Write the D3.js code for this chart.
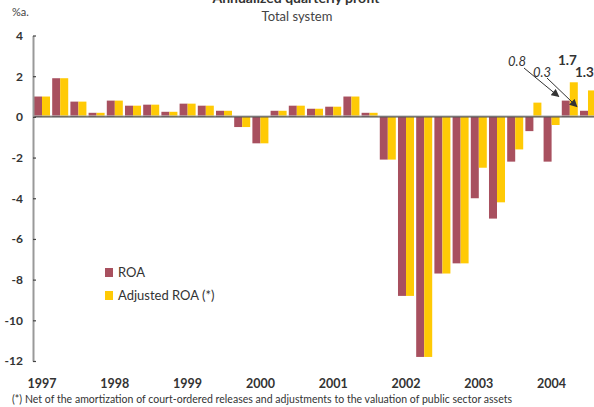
<!DOCTYPE html>
<html>
<head>
<meta charset="utf-8">
<script src="https://cdn.jsdelivr.net/npm/d3@7"></script>
<style>
body { margin:0; background:#fff; }
svg text { font-family: Lato, "Open Sans", sans-serif; fill:#333; }
.y-axis text { font-weight:bold; font-size:12px; }
.year { font-weight:bold; font-size:12.5px; }
</style>
</head>
<body>
<div class="visualisation"></div>
<script>
// quarters 1997 Q1 .. 2004 Q3
var years = ["1997","1998","1999","2000","2001","2002","2003","2004"];
var quarters = [];
years.forEach(function(y){ ["Q1","Q2","Q3","Q4"].forEach(function(q){ quarters.push(y + " " + q); }); });
quarters = quarters.slice(0, 31);

var roa = [1.0, 1.9, 0.75, 0.2, 0.8, 0.55, 0.6, 0.25, 0.65, 0.55, 0.3, -0.5,
	-1.3, 0.3, 0.55, 0.4, 0.5, 1.0, 0.2, -2.1, -8.8, -11.8, -7.7, -7.2,
	-4.0, -5.0, -2.2, -0.7, -2.2, 0.8, 0.3];
var adjRoa = [1.0, 1.9, 0.75, 0.2, 0.8, 0.55, 0.6, 0.25, 0.65, 0.55, 0.3, -0.5,
	-1.3, 0.3, 0.55, 0.4, 0.5, 1.0, 0.2, -2.1, -8.8, -11.8, -7.7, -7.2,
	-2.5, -4.2, -1.6, 0.7, -0.4, 1.7, 1.3];
var seriesNames = ["ROA", "Adjusted ROA (*)"];
var yTicks = [4, 2, 0, -2, -4, -6, -8, -10, -12];

var colors = {"ROA": "#a8505f", "Adjusted ROA (*)": "#ffca05"};

var width = 594, height = 407;

var svg = d3.select(".visualisation").append("svg")
	.attr("width", width)
	.attr("height", height);

var x0 = d3.scaleBand()
	.domain(quarters)
	.range([34, 596])
	.paddingInner(0.12)
	.paddingOuter(0)
	.align(0);

var x1 = d3.scaleBand()
	.domain(seriesNames)
	.range([0, x0.bandwidth()])
	.padding(0);

var y = d3.scaleLinear().domain([-12, 4]).range([361, 35.5]);

var data = quarters.map(function(q, i){
	return {quarter: q, values: [{key: "ROA", value: roa[i]}, {key: "Adjusted ROA (*)", value: adjRoa[i]}]};
});

// titles (top one is cut by the frame, as in the source)
svg.append("text").attr("x", 296).attr("y", 3)
	.attr("text-anchor", "middle").style("font-weight", "bold").style("font-size", "14px")
	.text("Annualized quarterly profit");
svg.append("text").attr("x", 297).attr("y", 21)
	.attr("text-anchor", "middle").style("font-size", "13px").style("fill", "#444")
	.text("Total system");
svg.append("text").attr("x", 12).attr("y", 16)
	.style("font-size", "11px").style("fill", "#444")
	.text("%a.");

// bars
var groups = svg.append("g").selectAll("g")
	.data(data)
	.enter().append("g")
	.attr("transform", function(d){ return "translate(" + x0(d.quarter) + ",0)"; });

groups.selectAll("rect")
	.data(function(d){ return d.values; })
	.enter().append("rect")
	.attr("x", function(d){ return x1(d.key); })
	.attr("width", x1.bandwidth())
	.attr("y", function(d){ return y(Math.max(0, d.value)); })
	.attr("height", function(d){ return Math.abs(y(d.value) - y(0)); })
	.attr("fill", function(d){ return colors[d.key]; });

// zero line
svg.append("line")
	.attr("x1", 33).attr("x2", width)
	.attr("y1", y(0) - 1).attr("y2", y(0) - 1)
	.attr("stroke", "#bbb").attr("stroke-width", 1);
svg.append("line")
	.attr("x1", 33).attr("x2", width)
	.attr("y1", y(0)).attr("y2", y(0))
	.attr("stroke", "#555").attr("stroke-width", 1.2);

// y axis
var yAxis = svg.append("g")
	.attr("class", "y-axis")
	.attr("transform", "translate(33,0)")
	.call(d3.axisLeft(y).tickValues(yTicks).tickFormat(function(d){ return String(d); })
		.tickSizeInner(-3).tickSizeOuter(0).tickPadding(10));
yAxis.select(".domain").attr("stroke", "#999").attr("stroke-width", 2);
yAxis.selectAll(".tick line").attr("stroke", "#444").attr("stroke-width", 1.2);
yAxis.selectAll(".tick text").style("fill", "#333");

// year labels at Q1 of each year
svg.append("g").selectAll("text")
	.data(years)
	.enter().append("text")
	.attr("class", "year")
	.attr("x", function(d){ return x0(d + " Q1") + x0.bandwidth() / 2; })
	.attr("y", 388)
	.attr("text-anchor", "middle")
	.text(function(d){ return d; });

// legend
var legend = svg.append("g").selectAll("g")
	.data(seriesNames)
	.enter().append("g")
	.attr("transform", function(d, i){ return "translate(105," + (268 + i * 23) + ")"; });
legend.append("rect").attr("width", 8).attr("height", 9)
	.attr("fill", function(d){ return colors[d]; });
legend.append("text").attr("x", 13).attr("y", 9)
	.style("font-size", "13px")
	.text(function(d){ return d; });

// annotations for the last two quarters
svg.append("defs").append("marker")
	.attr("id", "arrow").attr("viewBox", "0 0 10 10")
	.attr("refX", 9).attr("refY", 5)
	.attr("markerWidth", 9).attr("markerHeight", 8)
	.attr("markerUnits", "userSpaceOnUse")
	.attr("orient", "auto")
	.append("path").attr("d", "M0,0L10,5L0,10z").attr("fill", "#333");

var notes = [
	{i: 29, roaLabel: [508, 66], adjLabel: [558, 65], from: [524, 68]},
	{i: 30, roaLabel: [533, 77], adjLabel: [575, 77], from: [547, 78]}
];
notes.forEach(function(n){
	var q = quarters[n.i];
	svg.append("text").attr("x", n.roaLabel[0]).attr("y", n.roaLabel[1])
		.style("font-style", "italic").style("font-size", "13px")
		.text(d3.format(".1f")(roa[n.i]));
	svg.append("text").attr("x", n.adjLabel[0]).attr("y", n.adjLabel[1])
		.style("font-weight", "bold").style("font-size", "13.5px")
		.text(d3.format(".1f")(adjRoa[n.i]));
	svg.append("line")
		.attr("x1", n.from[0]).attr("y1", n.from[1])
		.attr("x2", x0(q) - 3).attr("y2", y(Math.max(roa[n.i], 0.3)) - 4)
		.attr("stroke", "#333").attr("stroke-width", 1)
		.attr("marker-end", "url(#arrow)");
});

// footnote
svg.append("text").attr("x", 12).attr("y", 403)
	.style("font-size", "10.5px")
	.attr("textLength", 500)
	.text("(*) Net of the amortization of court-ordered releases and adjustments to the valuation of public sector assets");
</script>
</body>
</html>
